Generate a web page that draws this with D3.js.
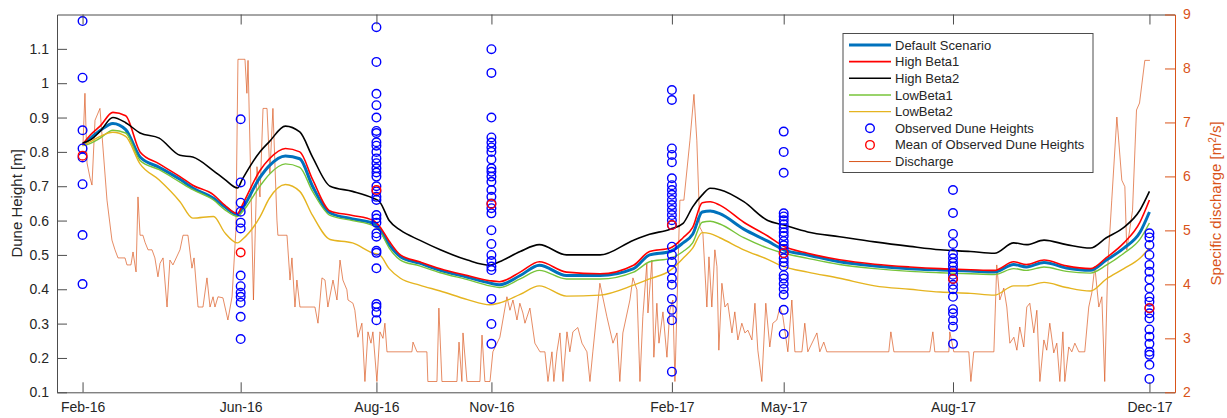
<!DOCTYPE html>
<html>
<head>
<meta charset="utf-8">
<script src="https://cdn.jsdelivr.net/npm/d3@7"></script>
<style>
body { margin: 0; background: #fff; }
svg { display: block; font-family: "Liberation Sans", Arial, Helvetica, sans-serif; }
</style>
</head>
<body>
<svg id="chart" width="1227" height="418"></svg>
<script>
// survey dates (days since 2016-01) and their labels
const surveyDays = [16, 115, 200, 272, 385, 455, 561, 684];
const surveyLabels = ["Feb-16", "Jun-16", "Aug-16", "Nov-16", "Feb-17", "May-17", "Aug-17", "Dec-17"];

// model output, sampled on a common set of days
const modelDays = [16, 21, 27, 35, 43, 52, 64, 77, 85, 98, 105, 113, 116, 127, 133, 143, 152, 160, 171, 185,
  198, 202, 208, 215, 227, 240, 257, 271, 277, 290, 302, 319, 340, 361, 371, 384, 392, 398, 404, 409,
  415, 430, 445, 455, 470, 490, 512, 534, 553, 572, 587, 599, 607, 618, 632, 647, 657, 668, 678, 684];

const defaultScenario = [0.82, 0.84, 0.862, 0.883, 0.865, 0.785, 0.755, 0.72, 0.695, 0.665,
  0.64, 0.618, 0.635, 0.725, 0.76, 0.788, 0.78, 0.70, 0.622, 0.605,
  0.592, 0.575, 0.53, 0.495, 0.476, 0.455, 0.435, 0.418, 0.413, 0.44,
  0.47, 0.44, 0.44, 0.46, 0.50, 0.51, 0.535, 0.56, 0.625, 0.628,
  0.62, 0.575, 0.54, 0.515, 0.50, 0.48, 0.468, 0.46, 0.456, 0.453,
  0.45, 0.472, 0.465, 0.478, 0.462, 0.455, 0.485, 0.52, 0.565, 0.625];

const highBeta1 = [0.822, 0.85, 0.875, 0.915, 0.905, 0.80, 0.765, 0.728, 0.703, 0.675,
  0.645, 0.62, 0.645, 0.745, 0.78, 0.81, 0.80, 0.72, 0.628, 0.615,
  0.60, 0.583, 0.54, 0.50, 0.48, 0.46, 0.44, 0.425, 0.422, 0.45,
  0.48, 0.45, 0.445, 0.47, 0.51, 0.52, 0.55, 0.58, 0.652, 0.655,
  0.645, 0.595, 0.555, 0.525, 0.505, 0.486, 0.473, 0.465, 0.46, 0.457,
  0.455, 0.48, 0.472, 0.485, 0.468, 0.46, 0.492, 0.535, 0.595, 0.66];

const highBeta2 = [0.826, 0.835, 0.86, 0.90, 0.885, 0.855, 0.84, 0.79, 0.785, 0.745,
  0.72, 0.695, 0.72, 0.80, 0.83, 0.875, 0.858, 0.785, 0.70, 0.685,
  0.665, 0.655, 0.60, 0.572, 0.543, 0.515, 0.485, 0.47, 0.48, 0.51,
  0.53, 0.50, 0.50, 0.543, 0.56, 0.575, 0.592, 0.64, 0.675, 0.694,
  0.69, 0.655, 0.60, 0.587, 0.567, 0.553, 0.538, 0.525, 0.515, 0.51,
  0.505, 0.535, 0.53, 0.543, 0.53, 0.52, 0.55, 0.58, 0.63, 0.685];

const lowBeta1 = [0.818, 0.825, 0.84, 0.863, 0.855, 0.775, 0.748, 0.712, 0.69, 0.66,
  0.632, 0.612, 0.625, 0.70, 0.735, 0.765, 0.755, 0.685, 0.615, 0.60,
  0.585, 0.57, 0.52, 0.485, 0.468, 0.448, 0.428, 0.41, 0.405, 0.43,
  0.455, 0.43, 0.43, 0.45, 0.48, 0.49, 0.51, 0.535, 0.595, 0.598,
  0.59, 0.55, 0.52, 0.505, 0.49, 0.472, 0.46, 0.452, 0.448, 0.445,
  0.443, 0.46, 0.455, 0.465, 0.452, 0.447, 0.47, 0.505, 0.545, 0.593];

const lowBeta2 = [0.818, 0.83, 0.845, 0.857, 0.845, 0.765, 0.718, 0.655, 0.607, 0.612,
  0.565, 0.535, 0.545, 0.61, 0.665, 0.705, 0.685, 0.615, 0.545, 0.535,
  0.505, 0.50, 0.46, 0.432, 0.412, 0.395, 0.37, 0.355, 0.36, 0.385,
  0.41, 0.38, 0.383, 0.412, 0.43, 0.455, 0.49, 0.52, 0.565, 0.562,
  0.55, 0.515, 0.487, 0.466, 0.45, 0.432, 0.41, 0.40, 0.392, 0.388,
  0.383, 0.41, 0.41, 0.42, 0.405, 0.395, 0.43, 0.46, 0.49, 0.52];

// observed dune heights per survey [m]
const observedHeights = [
  [1.181, 1.016, 0.863, 0.810, 0.784, 0.706, 0.558, 0.415],
  [0.895, 0.711, 0.652, 0.626, 0.594, 0.577, 0.44, 0.409, 0.39, 0.378, 0.361, 0.32, 0.255],
  [1.163, 1.062, 0.969, 0.936, 0.90, 0.861, 0.855, 0.828, 0.818, 0.80, 0.781, 0.767, 0.752, 0.74, 0.728, 0.70,
   0.685, 0.669, 0.66, 0.616, 0.606, 0.594, 0.563, 0.553, 0.512, 0.506, 0.461, 0.357, 0.349, 0.332, 0.31],
  [1.099, 1.03, 0.90, 0.842, 0.827, 0.813, 0.80, 0.778, 0.752, 0.742, 0.728, 0.713, 0.689, 0.669, 0.65, 0.636,
   0.621, 0.572, 0.532, 0.50, 0.482, 0.466, 0.456, 0.372, 0.299, 0.241],
  [0.98, 0.951, 0.81, 0.791, 0.77, 0.723, 0.703, 0.689, 0.675, 0.66, 0.645, 0.631, 0.616, 0.601, 0.587, 0.524,
   0.50, 0.48, 0.456, 0.432, 0.413, 0.372, 0.34, 0.31, 0.16],
  [0.859, 0.80, 0.739, 0.621, 0.612, 0.601, 0.589, 0.578, 0.566, 0.555, 0.54, 0.528, 0.517, 0.505, 0.49, 0.479,
   0.467, 0.441, 0.431, 0.416, 0.401, 0.384, 0.34, 0.27],
  [0.689, 0.622, 0.561, 0.532, 0.503, 0.49, 0.477, 0.466, 0.454, 0.442, 0.43, 0.413, 0.40, 0.378, 0.342, 0.33,
   0.31, 0.291, 0.241],
  [0.563, 0.551, 0.529, 0.50, 0.471, 0.451, 0.429, 0.403, 0.377, 0.364, 0.345, 0.33, 0.315, 0.283, 0.262, 0.241,
   0.218, 0.209, 0.18, 0.139]
];
const observedMean = [0.789, 0.507, 0.689, 0.648, 0.587, 0.505, 0.43, 0.345];

// specific discharge [m2/s]: [day, q]
const discharge = [
  [16.3, 6.62], [17.5, 7.54], [18.8, 6.25], [20.7, 5.97], [21.9, 5.84], [23.8, 7.04], [26.9, 7.26], [31.3, 5.56],
  [34.4, 4.82], [36.3, 4.64], [38.2, 4.49], [42.6, 4.49], [43.8, 4.36], [46.3, 4.36], [47.6, 4.6], [49.5, 4.23],
  [50.7, 5.62], [52, 4.91], [53.8, 4.91], [55.1, 4.78], [57, 4.64], [59.5, 4.64], [61.3, 4.49], [63.2, 4.14],
  [64.5, 4.39], [66.4, 4.49], [68.9, 3.58], [70.7, 4.45], [72.6, 4.36], [77, 4.64], [78.9, 4.91], [82, 4.91],
  [84.5, 4.3], [85.8, 4.49], [88.3, 3.58], [91.4, 3.58], [93.9, 4.12], [95.8, 3.58], [97.7, 3.77], [98.9, 3.58],
  [100.8, 3.77], [103.9, 3.75], [107, 3.34], [109.6, 3.77], [112, 5.0], [113.3, 8.17], [117.7, 8.17], [118.9, 7.54],
  [119.6, 8.15], [121.4, 5.81], [123, 3.71], [125.2, 6.18], [127.1, 5.62], [129, 7.26], [131.5, 7.26], [133.3, 6.06],
  [135.2, 7.26], [137.7, 5.19], [138.3, 4.91], [144, 4.91], [145.9, 4.08], [147.1, 4.49], [149, 3.58], [150.2, 4.08],
  [152.1, 3.58], [161.5, 3.58], [163.4, 3.28], [165.9, 4.12], [167.8, 4.08], [169.6, 3.58], [172.8, 4.08], [175.3, 3.71],
  [177.2, 4.45], [179, 4.08], [181.5, 3.9], [182.2, 3.71], [185.3, 3.65], [186.5, 3.52], [188.4, 3.02], [190.9, 3.28],
  [192.8, 2.2], [194.7, 3.12], [196.6, 2.91], [197.8, 3.12], [200.3, 2.2], [202.2, 3.12], [204.1, 3.0], [205.3, 3.28],
  [206.6, 2.75], [222.2, 2.75], [222.9, 2.93], [225.4, 2.75], [231.6, 2.75], [232.2, 2.2], [237.9, 2.2], [239.1, 3.56],
  [241, 2.2], [250.4, 2.2], [251.7, 2.93], [253.5, 2.2], [254.2, 3.1], [256.7, 2.2], [264.8, 2.2], [266.1, 3.06],
  [267.9, 2.2], [271.1, 2.2], [272.9, 2.75], [277.3, 3.02], [281.7, 3.77], [283.6, 3.52], [285.5, 3.71], [288, 3.34],
  [289.8, 3.65], [291.7, 3.47], [293, 3.28], [296.1, 3.56], [299.2, 2.91], [302.4, 2.75], [305.5, 2.75], [307.4, 2.2],
  [309.9, 2.75], [311.1, 2.2], [313, 2.75], [314.9, 3.1], [316.8, 2.2], [319.3, 3.12], [321.1, 2.75], [323, 3.12],
  [326.1, 3.2], [328.7, 2.91], [331.8, 2.75], [333.7, 2.2], [335.5, 2.75], [339.9, 4.02], [344.3, 3.4], [348.1, 2.91],
  [350.6, 3.1], [352.4, 2.2], [354.3, 3.1], [358.7, 3.71], [360.6, 4.12], [363.1, 3.9], [365, 2.2], [366.8, 3.4],
  [369.3, 4.39], [370, 3.47], [372.5, 4.45], [373.7, 2.65], [375.6, 3.65], [376.9, 2.91], [379.4, 3.49], [381.9, 2.65],
  [383.7, 3.52], [385.6, 3.71], [386.9, 2.2], [388.1, 3.52], [390, 5.56], [392.5, 5.56], [396.3, 6.67], [398.8, 7.52],
  [400.6, 6.67], [402.5, 5.06], [404.4, 4.95], [406.9, 3.58], [408.2, 4.51], [410, 3.58], [411.9, 4.64], [413.2, 4.33],
  [414.4, 2.78], [416.3, 4.02], [418.2, 3.58], [420, 3.65], [422.6, 3.1], [424.4, 3.49], [426.3, 2.97], [428.8, 3.28],
  [430.7, 3.1], [432.6, 3.15], [435.1, 2.97], [437, 3.65], [438.8, 2.78], [441.3, 2.2], [443.8, 3.65], [446.3, 2.84],
  [448.2, 3.28], [450.7, 3.34], [452.6, 3.58], [454.5, 3.4], [457.6, 2.75], [460.1, 3.71], [462, 2.75], [466.4, 2.75],
  [468.2, 3.28], [470.1, 2.75], [475.8, 3.1], [477.6, 2.75], [480.1, 2.93], [482, 2.75], [520.8, 2.75], [522.1, 3.12],
  [524, 2.75], [546.5, 2.75], [548.4, 3.12], [549.6, 2.75], [558.4, 2.75], [559, 3.12], [561.5, 2.75], [570.9, 2.75],
  [572.2, 2.2], [574, 2.75], [586.6, 2.75], [588.4, 4.36], [590.3, 3.71], [592.8, 3.93], [594.7, 3.58], [596.6, 2.91],
  [599.1, 3.02], [601, 2.78], [602.8, 3.21], [605.3, 2.84], [607.2, 3.58], [609.1, 3.65], [611.6, 3.1], [613.5, 3.52],
  [615.4, 2.2], [617.9, 2.97], [619.7, 2.78], [621.6, 3.28], [624.1, 2.73], [626, 2.91], [627.9, 2.2], [629.8, 3.12],
  [631, 2.2], [633.5, 2.84], [635.4, 2.75], [637.3, 2.91], [639.8, 2.75], [643.5, 2.75], [646, 3.58], [647.9, 3.84],
  [649.8, 4.33], [652.3, 3.58], [654.2, 3.77], [656, 2.2], [657.9, 4.33], [660.4, 5.56], [663.6, 7.1], [666.7, 5.93],
  [668.6, 5.81], [669.8, 4.64], [673.4, 5.37], [675.9, 7.23], [677.8, 7.36], [681.1, 8.15], [684.3, 8.15]
];

const leftTicks = [0.1, 0.2, 0.3, 0.4, 0.5, 0.6, 0.7, 0.8, 0.9, 1, 1.1];
const rightTicks = [2, 3, 4, 5, 6, 7, 8, 9];

const axisColor = "#4d4d4d";
const textColor = "#262626";
const orange = "#D95319";

const svg = d3.select("#chart");
const plotLeft = 57, plotRight = 1175, plotTop = 14.5, plotBottom = 392.3;

const x = d3.scaleLinear().domain([0, 700]).range([plotLeft, plotRight]);
const y = d3.scaleLinear().domain([0.1, 1.2]).range([plotBottom, plotTop]);
const yR = d3.scaleLinear().domain([2, 9]).range([plotBottom, plotTop]);

// discharge on the right axis (drawn first, behind the model lines)
svg.append("path")
  .datum(discharge)
  .attr("fill", "none")
  .attr("stroke", orange)
  .attr("stroke-width", 0.9)
  .attr("stroke-opacity", 0.75)
  .attr("d", d3.line().x(d => x(d[0])).y(d => yR(d[1])));

const series = [
  { name: "Default Scenario", values: defaultScenario, color: "#0072BD", width: 3 },
  { name: "High Beta1", values: highBeta1, color: "#FF0000", width: 1.6 },
  { name: "High Beta2", values: highBeta2, color: "#000000", width: 1.6 },
  { name: "LowBeta1", values: lowBeta1, color: "#77C43A", width: 1.4 },
  { name: "LowBeta2", values: lowBeta2, color: "#E5B420", width: 1.4 }
];

const line = d3.line()
  .x((d, i) => x(modelDays[i]))
  .y(d => y(d))
  .curve(d3.curveMonotoneX);

svg.append("g").selectAll("path")
  .data(series)
  .enter()
  .append("path")
  .attr("fill", "none")
  .attr("stroke", d => d.color)
  .attr("stroke-width", d => d.width)
  .attr("stroke-linejoin", "round")
  .attr("d", d => line(d.values));

// observed dune heights
const obsPoints = [];
observedHeights.forEach((arr, i) => arr.forEach(v => obsPoints.push([surveyDays[i], v])));

svg.append("g").selectAll("circle")
  .data(obsPoints)
  .enter()
  .append("circle")
  .attr("cx", d => x(d[0]))
  .attr("cy", d => y(d[1]))
  .attr("r", 4.3)
  .attr("fill", "none")
  .attr("stroke", "#0000FF")
  .attr("stroke-width", 1.4);

svg.append("g").selectAll("circle")
  .data(observedMean)
  .enter()
  .append("circle")
  .attr("cx", (d, i) => x(surveyDays[i]))
  .attr("cy", d => y(d))
  .attr("r", 4.3)
  .attr("fill", "none")
  .attr("stroke", "#FF0000")
  .attr("stroke-width", 1.4);

// axes
const xBottom = svg.append("g")
  .attr("transform", `translate(0,${plotBottom})`)
  .call(d3.axisBottom(x).tickValues(surveyDays).tickFormat((d, i) => surveyLabels[i])
    .tickSizeInner(-10).tickSizeOuter(0).tickPadding(10));

const xTop = svg.append("g")
  .attr("transform", `translate(0,${plotTop})`)
  .call(d3.axisTop(x).tickValues(surveyDays).tickFormat("")
    .tickSizeInner(-10).tickSizeOuter(0));

const yLeft = svg.append("g")
  .attr("transform", `translate(${plotLeft},0)`)
  .call(d3.axisLeft(y).tickValues(leftTicks).tickFormat(d3.format("~g"))
    .tickSizeInner(-10).tickSizeOuter(0).tickPadding(8));

[xBottom, xTop, yLeft].forEach(g => {
  g.select(".domain").attr("stroke", axisColor);
  g.selectAll(".tick line").attr("stroke", axisColor);
  g.selectAll(".tick text").attr("fill", textColor).style("font-size", "14px");
});

const yRight = svg.append("g")
  .attr("transform", `translate(${plotRight},0)`)
  .call(d3.axisRight(yR).tickValues(rightTicks).tickFormat(d3.format("d"))
    .tickSizeInner(-10).tickSizeOuter(0).tickPadding(8));
yRight.select(".domain").attr("stroke", orange);
yRight.selectAll(".tick line").attr("stroke", orange);
yRight.selectAll(".tick text").attr("fill", orange).style("font-size", "14px");

// axis titles
svg.append("text")
  .attr("transform", `translate(22,${(plotTop + plotBottom) / 2}) rotate(-90)`)
  .attr("text-anchor", "middle")
  .attr("fill", textColor)
  .style("font-size", "15px")
  .text("Dune Height [m]");

const rTitle = svg.append("text")
  .attr("transform", `translate(1221,${(plotTop + plotBottom) / 2}) rotate(-90)`)
  .attr("text-anchor", "middle")
  .attr("fill", orange)
  .style("font-size", "15px");
rTitle.append("tspan").text("Specific discharge [m");
rTitle.append("tspan").attr("baseline-shift", "super").style("font-size", "10px").text("2");
rTitle.append("tspan").text("/s]");

// legend
const legendItems = [
  { label: "Default Scenario", type: "line", color: "#0072BD", width: 3 },
  { label: "High Beta1", type: "line", color: "#FF0000", width: 1.6 },
  { label: "High Beta2", type: "line", color: "#000000", width: 1.6 },
  { label: "LowBeta1", type: "line", color: "#77C43A", width: 1.4 },
  { label: "LowBeta2", type: "line", color: "#E5B420", width: 1.4 },
  { label: "Observed Dune Heights", type: "circle", color: "#0000FF" },
  { label: "Mean of Observed Dune Heights", type: "circle", color: "#FF0000" },
  { label: "Discharge", type: "line", color: orange, width: 1 }
];

const legend = svg.append("g").attr("transform", "translate(843,33.5)");
legend.append("rect")
  .attr("width", 250)
  .attr("height", 139)
  .attr("fill", "#fff")
  .attr("stroke", axisColor)
  .attr("stroke-width", 1);

const rows = legend.selectAll("g.row")
  .data(legendItems)
  .enter()
  .append("g")
  .attr("class", "row")
  .attr("transform", (d, i) => `translate(0,${11.5 + i * 16.65})`);

rows.filter(d => d.type === "line")
  .append("line")
  .attr("x1", 6).attr("x2", 48)
  .attr("stroke", d => d.color)
  .attr("stroke-width", d => d.width);

rows.filter(d => d.type === "circle")
  .append("circle")
  .attr("cx", 27)
  .attr("r", 4.3)
  .attr("fill", "none")
  .attr("stroke", d => d.color)
  .attr("stroke-width", 1.4);

rows.append("text")
  .attr("x", 52)
  .attr("dy", "0.35em")
  .attr("fill", textColor)
  .style("font-size", "13px")
  .text(d => d.label);
</script>
</body>
</html>
